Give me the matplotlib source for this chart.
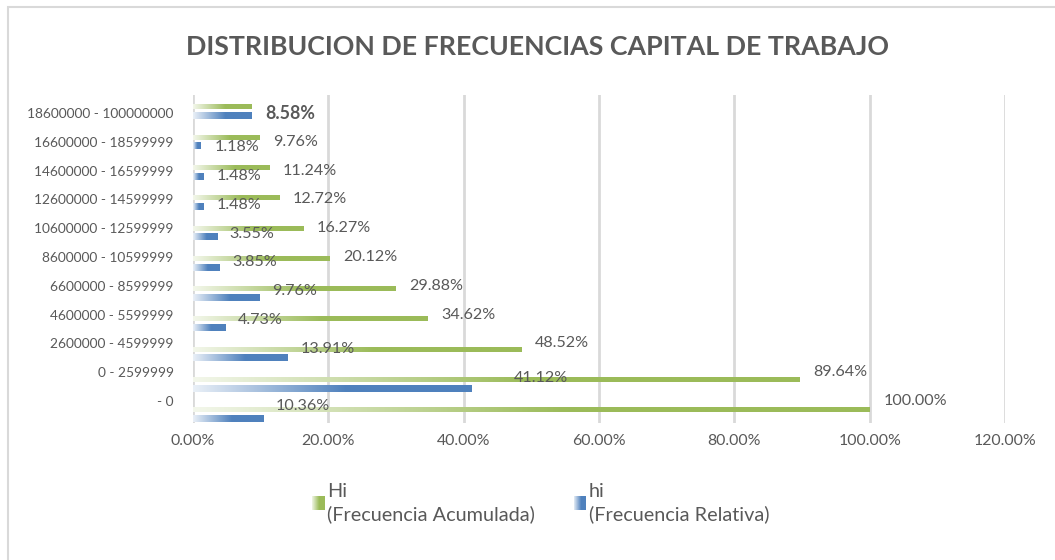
import matplotlib
matplotlib.use("Agg")
import matplotlib.pyplot as plt
import numpy as np
from matplotlib.patches import Rectangle
from matplotlib.legend_handler import HandlerBase

plt.rcParams['font.family'] = ['Lato', 'DejaVu Sans']

# categories listed bottom to top
rangos = ['- 0', '0 - 2599999', '2600000 - 4599999', '4600000 - 5599999',
          '6600000 - 8599999', '8600000 - 10599999', '10600000 - 12599999',
          '12600000 - 14599999', '14600000 - 16599999', '16600000 - 18599999',
          '18600000 - 100000000']
Hi = [100.00, 89.64, 48.52, 34.62, 29.88, 20.12, 16.27, 12.72, 11.24, 9.76, 8.58]
hi = [10.36, 41.12, 13.91, 4.73, 9.76, 3.85, 3.55, 1.48, 1.48, 1.18, 8.58]
xticks = [0, 20, 40, 60, 80, 100, 120]

# label placement (pixels to the right of the bar end)
Hi_dx = 14
hi_dx = [40, 70, 41, 35, 36, 36, 35, 36, 36, 36, 0]

VERDE = (155/255, 187/255, 89/255)
AZUL = (79/255, 129/255, 189/255)
GRIS = '#595959'
REJILLA = '#D9D9D9'


def degradado(color, n=256, solido=0.55, inicio=0.12):
    t = np.clip(np.linspace(0, 1, n) / solido, 0, 1)
    a = inicio + (1 - inicio) * t
    rgb = 1 - a[:, None] * (1 - np.array(color))
    return rgb[None, :, :]


class HandlerDegradado(HandlerBase):
    def create_artists(self, legend, orig_handle, xdescent, ydescent,
                       width, height, fontsize, trans):
        color = orig_handle.get_facecolor()[:3]
        n = 12
        arts = []
        for k in range(n):
            a = 0.15 + 0.85 * min(1, (k + 0.5) / n / 0.6)
            c = 1 - a * (1 - np.array(color))
            r = Rectangle((-xdescent + width * k / n, -ydescent), width / n + 0.3,
                          height, facecolor=c, edgecolor='none', transform=trans)
            arts.append(r)
        return arts


fig = plt.figure(figsize=(10.55, 5.6), dpi=100)
W, H = 1055, 560
ax = fig.add_axes([193 / W, 1 - 423 / H, 812 / W, 328 / H])

# chart frame
fig.patches.append(Rectangle((8 / W, -0.1), 1.2, 1.1 - 7 / H, transform=fig.transFigure,
                             facecolor='none', edgecolor=REJILLA, linewidth=1.5))

y = np.arange(len(rangos))
h_verde, h_azul = 0.16, 0.2
for i in range(len(rangos)):
    ax.imshow(degradado(VERDE), extent=[0, Hi[i], y[i] + 0.15 - h_verde / 2, y[i] + 0.15 + h_verde / 2],
              aspect='auto', interpolation='bilinear', zorder=3)
    ax.imshow(degradado(AZUL), extent=[0, hi[i], y[i] - 0.15 - h_azul / 2, y[i] - 0.15 + h_azul / 2],
              aspect='auto', interpolation='bilinear', zorder=3)

ax.set_xlim(0, 120)
ax.set_ylim(-0.28, 10.54)

# text rows sit on a slightly tighter pitch than the bars
y_txt = 0.446 + 0.950 * y
px = 120 / 812  # data units per pixel along x
py = 10.82 / 328

for i in range(len(rangos)):
    if Hi[i] == hi[i]:
        # both labels coincide here, drawn heavier
        ax.text(Hi[i] + Hi_dx * px, y_txt[i], f'{Hi[i]:.2f}%', ha='left', va='center',
                fontsize=12.8, color=GRIS, weight='bold', zorder=4)
        continue
    ax.text(Hi[i] + Hi_dx * px, y_txt[i], f'{Hi[i]:.2f}%', ha='left', va='center',
            fontsize=11.6, color=GRIS, zorder=4)
    ax.text(hi[i] + hi_dx[i] * px, y_txt[i] - 5.5 * py, f'{hi[i]:.2f}%', ha='center', va='center',
            fontsize=11.6, color=GRIS, zorder=4)

ax.set_xticks(xticks)
ax.set_xticklabels([f'{v:.2f}%' for v in xticks])
ax.set_yticks(y_txt)
ax.set_yticklabels(rangos)
ax.tick_params(length=0, colors=GRIS, labelsize=11.4)
ax.tick_params(axis='y', labelsize=9.9, pad=14)
ax.tick_params(axis='x', pad=8)
for s in ax.spines.values():
    s.set_visible(False)
for v in xticks:
    ax.axvline(v, color=REJILLA, linewidth=2, zorder=1)

fig.text(537 / W, 1 - 47 / H, 'DISTRIBUCION DE FRECUENCIAS CAPITAL DE TRABAJO',
         ha='center', va='center', fontsize=19.3, weight='bold', color=GRIS)

h1 = Rectangle((0, 0), 1, 1, facecolor=VERDE)
h2 = Rectangle((0, 0), 1, 1, facecolor=AZUL)
leg = fig.legend([h1, h2], ['Hi\n(Frecuencia Acumulada)', 'hi\n(Frecuencia Relativa)'],
                 loc='center', bbox_to_anchor=(541 / W, 1 - 503 / H), ncol=2, frameon=False,
                 fontsize=14.3, handler_map={Rectangle: HandlerDegradado()},
                 handlelength=0.6, handleheight=0.65, handletextpad=0.15, columnspacing=1.96)
for t in leg.get_texts():
    t.set_color(GRIS)
    t.set_linespacing(1.35)

fig.savefig('out.png', dpi=100)
